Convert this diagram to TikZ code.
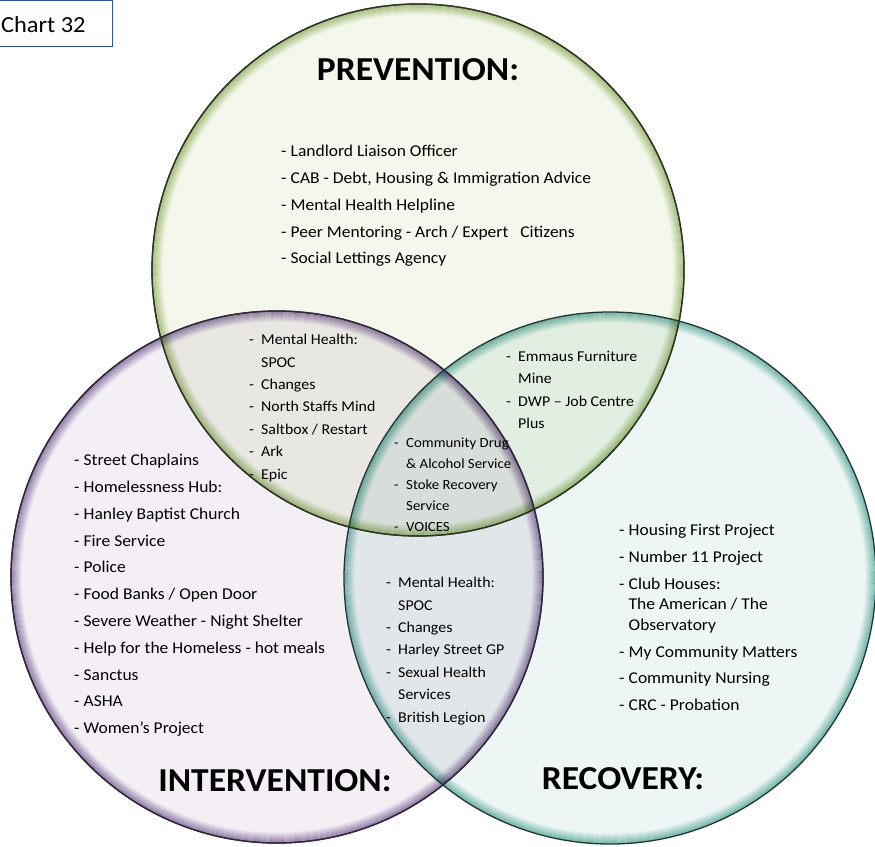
\documentclass[tikz,border=0pt]{standalone}
\usepackage{fontspec}
\setmainfont{Carlito}[FakeStretch=1.06]

\definecolor{chartblue}{HTML}{2F5597}
\definecolor{prevpale}{HTML}{F4F7EC}
\definecolor{prevrim}{HTML}{A4C078}
\definecolor{prevline}{HTML}{2E3524}
\definecolor{intpale}{HTML}{F3EFF5}
\definecolor{intrim}{HTML}{9078A9}
\definecolor{intline}{HTML}{2F283A}
\definecolor{recpale}{HTML}{EDF6F5}
\definecolor{recrim}{HTML}{6DB8AE}
\definecolor{recline}{HTML}{233634}

% one set: pale disc, rim fading inwards, dark outline
\def\setcircle(#1)(#2:#3:#4){%
	\begin{scope}[blend mode=multiply]
		\fill[#2] (#1) circle (266);
		\foreach \k in {0,...,10} {
			\pgfmathtruncatemacro\mix{82-8*\k}
			\draw[line width=1.02pt, color=#3!\mix!white] (#1) circle (265.3-\k);
		}
	\end{scope}
	\draw[line width=1.3pt, color=#4] (#1) circle (266);
}

\def\dsh{\makebox[9.5pt][l]{-}}
\def\sdsh{\makebox[12pt][l]{-}}

\tikzset{
	listtext/.style={anchor=north west, inner sep=0pt, align=left, font=\fontsize{16.5}{26.8}\selectfont},
	smalllist/.style={anchor=north west, inner sep=0pt, align=left, font=\fontsize{15}{22.4}\selectfont},
	heading/.style={inner sep=0pt, font=\fontsize{33.5}{40}\selectfont\bfseries},
}

\begin{document}
\begin{tikzpicture}[x=1pt, y=-1pt]
			%%%%% START %%%%%
			\useasboundingbox (0, 0) rectangle (875, 846);
			
			\setcircle(418, 270)(prevpale:prevrim:prevline)
			\setcircle(277, 577)(intpale:intrim:intline)
			\setcircle(610, 578)(recpale:recrim:recline)
			
			% outlines again so every arc shows over the other fills
			\draw[line width=1.3pt, color=prevline] (418, 270) circle (266);
			\draw[line width=1.3pt, color=intline] (277, 577) circle (266);
			
			\draw[line width=1.2pt, color=chartblue] (-2, 0.6) rectangle (112.6, 46.6);
			\node[inner sep=0pt, anchor=west, font=\fontsize{23}{28}\selectfont] (chart) at (1, 25) {Chart 32};
			
			\node[heading] (prevtitle) at (418, 70) {PREVENTION:};
			\node[heading] (inttitle) at (275, 781) {INTERVENTION:};
			\node[heading] (rectitle) at (623, 779) {RECOVERY:};
			
			\node[listtext] (prevlist) at (281, 145) {%
				\dsh Landlord Liaison Officer\\
				\dsh CAB - Debt, Housing \& Immigration Advice\\
				\dsh Mental Health Helpline\\
				\dsh Peer Mentoring - Arch / Expert\hspace{12pt}Citizens\\
				\dsh Social Lettings Agency};
			
			\node[listtext] (intlist) at (74, 454) {%
				\dsh Street Chaplains\\
				\dsh Homelessness Hub:\\
				\dsh Hanley Baptist Church\\
				\dsh Fire Service\\
				\dsh Police\\
				\dsh Food Banks / Open Door\\
				\dsh Severe Weather - Night Shelter\\
				\dsh Help for the Homeless - hot meals\\
				\dsh Sanctus\\
				\dsh ASHA\\
				\dsh Women's Project};
			
			\node[listtext] (reclist) at (619, 524) {%
				\dsh Housing First Project\\
				\dsh Number 11 Project\\
				\dsh Club Houses:\\[-6pt]
				\hspace*{9.5pt}The American / The\\[-6.5pt]
				\hspace*{9.5pt}Observatory\\
				\dsh My Community Matters\\
				\dsh Community Nursing\\
				\dsh CRC - Probation};
			
			\node[smalllist] (previnter) at (249, 334) {%
				\sdsh Mental Health:\\
				\hspace*{12pt}SPOC\\
				\sdsh Changes\\
				\sdsh North Staffs Mind\\
				\sdsh Saltbox / Restart\\
				\sdsh Ark\\
				\sdsh Epic};
			
			\node[smalllist] (prevrec) at (506, 351) {%
				\sdsh Emmaus Furniture\\
				\hspace*{12pt}Mine\\
				\sdsh DWP -- Job Centre\\
				\hspace*{12pt}Plus};
			
			\node[smalllist, font=\fontsize{14}{21}\selectfont] (allthree) at (394, 438) {%
				\sdsh Community Drug\\
				\hspace*{12pt}\& Alcohol Service\\
				\sdsh Stoke Recovery\\
				\hspace*{12pt}Service\\
				\sdsh VOICES};
			
			\node[smalllist] (interrec) at (386, 577) {%
				\sdsh Mental Health:\\
				\hspace*{12pt}SPOC\\
				\sdsh Changes\\
				\sdsh Harley Street GP\\
				\sdsh Sexual Health\\
				\hspace*{12pt}Services\\
				\sdsh British Legion};
			
			%%%%% END %%%%%
\end{tikzpicture}
\end{document}
